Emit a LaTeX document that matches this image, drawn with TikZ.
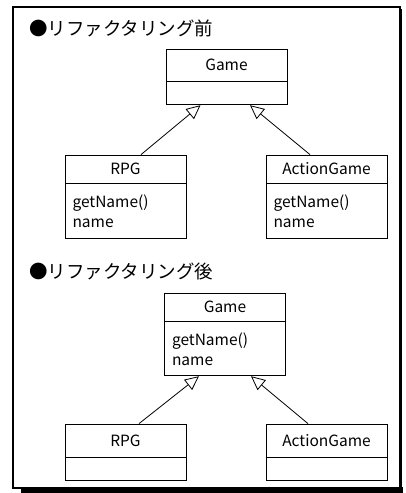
\documentclass[tikz,border=0pt]{standalone}
\usepackage{fontspec}
\setmainfont{Noto Sans CJK JP}
\usepackage{tikz}
\usetikzlibrary{arrows.meta,positioning}

\tikzset{
  cname/.style={draw,line width=0.8pt,minimum width=121pt,minimum height=28pt,inner sep=0pt,
    font=\fontsize{15.5}{20}\selectfont},
  cbody/.style={draw,line width=0.8pt,text width=106pt,inner xsep=7.5pt,inner ysep=0pt,align=left,
    font=\fontsize{15.5}{20}\selectfont},
  inherit/.style={-{Triangle[open,length=14pt,width=13pt]},line width=0.8pt},
  heading/.style={anchor=west,inner sep=0pt,font=\fontsize{18.5}{20}\selectfont}
}

\begin{document}
\begin{tikzpicture}[x=1pt,y=-1pt]
    \useasboundingbox (0,0) rectangle (405,493);
    % frame with shadow
    \draw[line width=1.6pt] (12.8,7) rectangle (400,488);
    \fill (21,487) rectangle (403,493);
    \fill (399.5,9) rectangle (402,493);

    % before refactoring
    \node[heading] (headA) at (29,28.5) {●リファクタリング前};
    \node[cname,minimum height=32pt] (gameA) at (226.5,65) {Game};
    \node[cbody,minimum height=23pt,below=0pt of gameA] (gameAbody) {};
    \node[cname] (rpgA) at (125.5,169) {RPG};
    \node[cbody,minimum height=55pt,below=0pt of rpgA] (rpgAbody) {getName()\\name};
    \node[cname] (actA) at (326.5,169) {ActionGame};
    \node[cbody,minimum height=55pt,below=0pt of actA] (actAbody) {getName()\\name};

    \draw[inherit] ([xshift=15.5pt]rpgA.north) -- ([xshift=-26pt]gameAbody.south);
    \draw[inherit] ([xshift=-16.5pt]actA.north) -- ([xshift=23.5pt]gameAbody.south);

    % after refactoring
    \node[heading] (headB) at (29,271.5) {●リファクタリング後};
    \node[cname] (gameB) at (225,307) {Game};
    \node[cbody,minimum height=54pt,below=0pt of gameB] (gameBbody) {getName()\\name};
    \node[cname,minimum height=33pt] (rpgB) at (125.5,440.5) {RPG};
    \node[cbody,minimum height=23pt,below=0pt of rpgB] (rpgBbody) {};
    \node[cname,minimum height=33pt] (actB) at (326.5,440.5) {ActionGame};
    \node[cbody,minimum height=23pt,below=0pt of actB] (actBbody) {};

    \draw[inherit] ([xshift=13.5pt]rpgB.north) -- ([xshift=-26pt]gameBbody.south);
    \draw[inherit] ([xshift=-18.5pt]actB.north) -- ([xshift=26pt]gameBbody.south);
\end{tikzpicture}
\end{document}
